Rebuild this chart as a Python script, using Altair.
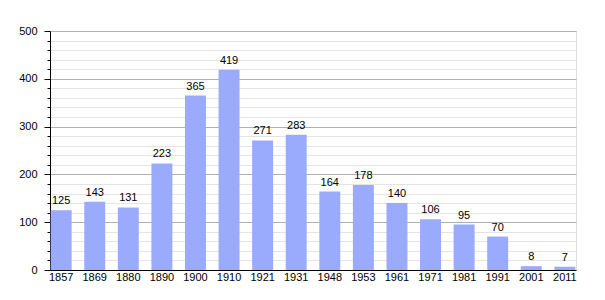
import altair as alt
import pandas as pd

years = ["1857", "1869", "1880", "1890", "1900", "1910", "1921", "1931",
         "1948", "1953", "1961", "1971", "1981", "1991", "2001", "2011"]
population = [125, 143, 131, 223, 365, 419, 271, 283, 164, 178, 140, 106, 95, 70, 8, 7]
major_ticks = [0, 100, 200, 300, 400, 500]
minor_ticks = [v for v in range(0, 501, 20) if v % 100 != 0]

df = pd.DataFrame({"year": years, "pop": population})

FONT = "Liberation Sans"

x_axis = alt.Axis(labelAngle=0, ticks=False, domainColor="#000000",
                  domainWidth=1, labelPadding=1, labelFontSize=11,
                  labelColor="#000000", labelFont=FONT)
x_scale = alt.Scale(paddingInner=0.376, paddingOuter=0.02)


def x_enc():
    return alt.X("year:N", sort=None, title=None, scale=x_scale, axis=x_axis)


y_scale = alt.Scale(domain=[0, 500], nice=False)

minor = alt.Chart(df).mark_bar(opacity=0).encode(
    x=x_enc(),
    y=alt.Y("pop:Q", title=None, scale=y_scale,
            axis=alt.Axis(orient="left", values=minor_ticks, labels=False,
                          tickSize=3, tickColor="#000000", domain=False,
                          grid=True, gridColor="#e4e4e4", zindex=0)))

bars = alt.Chart(df).mark_bar(color="#9aabfe").encode(
    x=x_enc(),
    y=alt.Y("pop:Q", title=None, scale=y_scale,
            axis=alt.Axis(orient="left", values=major_ticks, tickSize=6,
                          tickColor="#000000", domainColor="#000000",
                          grid=True, gridColor="#b0b0b0", zindex=0,
                          labelPadding=7, labelFontSize=11, labelColor="#000000",
                          labelFont=FONT)))

labels = alt.Chart(df).mark_text(dy=-9, fontSize=11, font=FONT, color="#000000").encode(
    x=x_enc(),
    y=alt.Y("pop:Q", title=None, scale=y_scale, axis=None),
    text=alt.Text("pop:Q"))

chart = alt.layer(minor, bars, labels).resolve_axis(y="independent").properties(
    width=526, height=239,
    autosize=alt.AutoSizeParams(type="none"),
    padding={"left": 50, "top": 31, "right": 29, "bottom": 30},
).configure_view(stroke=None).configure(background="#ffffff")

chart.save("out.html", embed_options={"renderer": "svg", "actions": False})
